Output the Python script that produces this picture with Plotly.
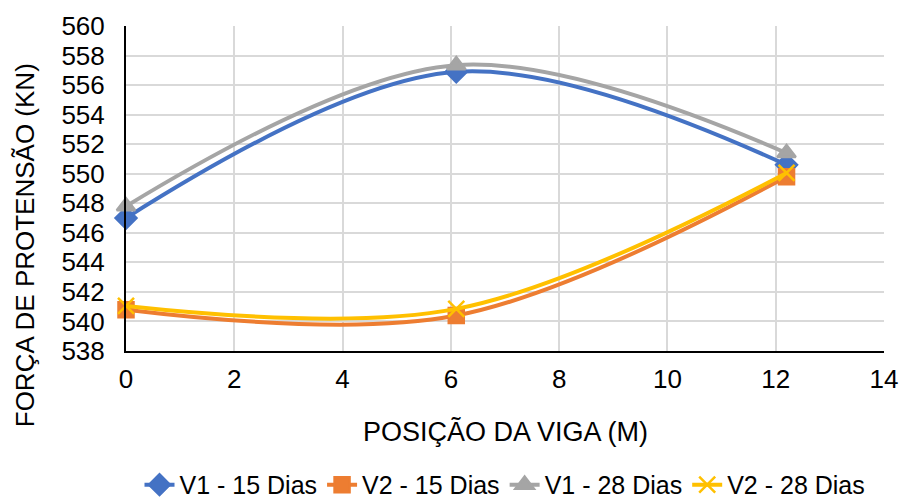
import plotly.graph_objects as go

positions = [0, 6.1, 12.2]
v1_15 = [547.0, 556.9, 550.6]
v2_15 = [540.8, 540.4, 549.8]
v1_28 = [547.8, 557.35, 551.4]
v2_28 = [541.05, 540.85, 550.05]

names = ["V1 - 15 Dias", "V2 - 15 Dias", "V1 - 28 Dias", "V2 - 28 Dias"]
series = [v1_15, v2_15, v1_28, v2_28]
colors = ["#4472C4", "#ED7D31", "#A5A5A5", "#FFC000"]
symbols = ["diamond", "square", "triangle-up", "x-thin"]
sizes = [16, 15, 16, 16]

fig = go.Figure()
for n, s, c, sym, sz in zip(names, series, colors, symbols, sizes):
    fig.add_trace(go.Scatter(
        x=positions, y=s, name=n, mode="lines+markers",
        line=dict(color=c, width=4, shape="spline", smoothing=1.0),
        marker=dict(symbol=sym, size=sz, color=c, line=dict(color=c, width=2.5)),
        cliponaxis=False,
    ))

font = "Liberation Sans, Arial, sans-serif"
fig.update_layout(
    width=902, height=502,
    margin=dict(l=126, r=18, t=26, b=151, autoexpand=False),
    paper_bgcolor="white", plot_bgcolor="white",
    font=dict(family=font, size=26, color="#000000"),
    xaxis=dict(range=[0, 14], dtick=2, tick0=0, showgrid=True, gridcolor="#D9D9D9", gridwidth=2,
               showline=True, linecolor="black", linewidth=2, zeroline=False,
               ticks="", tickfont=dict(size=26), ticklabelstandoff=4),
    yaxis=dict(range=[538, 560], dtick=2, tick0=538, showgrid=True, gridcolor="#D9D9D9", gridwidth=2,
               showline=True, linecolor="black", linewidth=2, zeroline=False,
               ticks="", tickfont=dict(size=26), ticklabelstandoff=14),
    legend=dict(orientation="h", x=0.5, xanchor="center", y=-0.412, yanchor="middle",
                font=dict(size=25), tracegroupgap=0),
    showlegend=True,
    annotations=[
        dict(text="POSIÇÃO DA VIGA (M)", xref="paper", yref="paper", x=0.5, y=-0.249,
             xanchor="center", yanchor="middle", showarrow=False, font=dict(size=27)),
        dict(text="FORÇA DE PROTENSÃO (KN)", xref="paper", yref="paper", x=-0.133, y=0.326,
             xanchor="center", yanchor="middle", textangle=-90, showarrow=False, font=dict(size=26)),
    ],
)

fig.write_html("out.html")
